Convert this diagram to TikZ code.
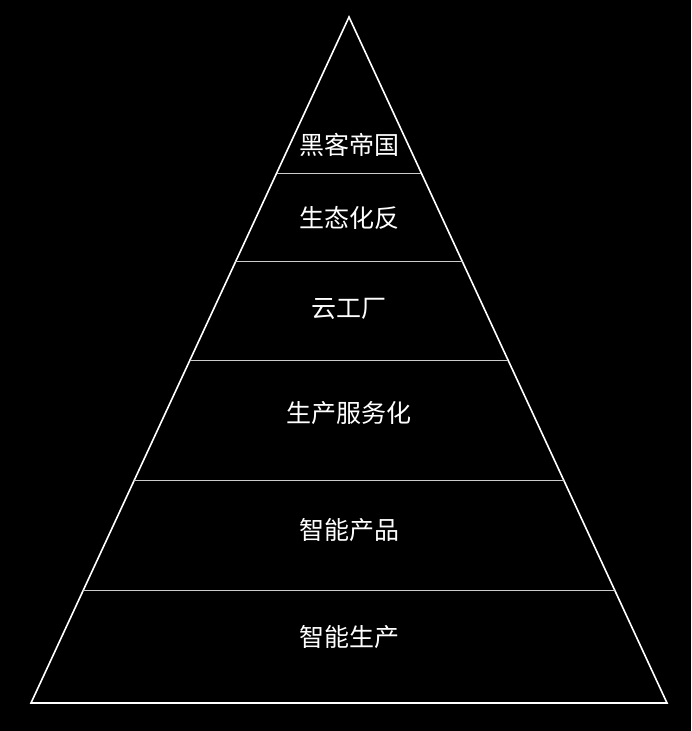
\documentclass[tikz,border=0pt]{standalone}
\usepackage{fontspec}
\newfontfamily\cjk{Noto Sans CJK SC}
\usetikzlibrary{calc}
\begin{document}
\begin{tikzpicture}[x=1pt,y=-1pt,
  lbl/.style={text=white,font=\cjk\fontsize{25}{30}\selectfont},
  edge/.style={draw=white,line width=1.6pt},
  sep/.style={draw=white!80!black,line width=1pt}]
\fill[black] (0,0) rectangle (691,731);
\useasboundingbox (0,0) rectangle (691,731);
\coordinate (A) at (349,17);
\coordinate (L) at (31,703);
\coordinate (R) at (667,703);
\draw[edge,line join=miter] (A) -- (L) -- (R) -- cycle;
\foreach \y/\n in {173/a,262/b,360/c,480/d,590/e}{
  \pgfmathsetmacro\t{(\y-17)/686}
  \coordinate (l\n) at ($(A)!\t!(L)$);
  \coordinate (r\n) at ($(A)!\t!(R)$);
  \draw[sep] (l\n) -- (r\n);
}
\node[lbl] (t1) at (349,145) {黑客帝国};
\node[lbl] (t2) at (349,218) {生态化反};
\node[lbl] (t3) at (349,309) {云工厂};
\node[lbl] (t4) at (349,413) {生产服务化};
\node[lbl] (t5) at (349,530) {智能产品};
\node[lbl] (t6) at (349,637) {智能生产};
\end{tikzpicture}
\end{document}
